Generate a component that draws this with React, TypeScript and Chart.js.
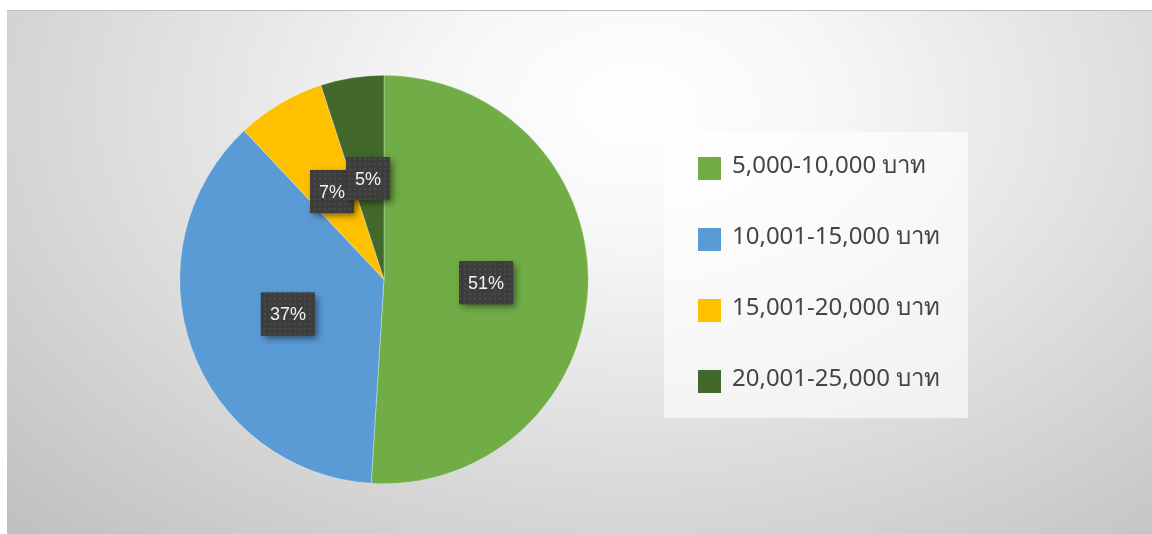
import React, { useEffect, useRef } from "react";
import { Chart, registerables } from "chart.js";

Chart.register(...registerables);

const categories = ["5,000-10,000 บาท", "10,001-15,000 บาท", "15,001-20,000 บาท", "20,001-25,000 บาท"];
const values = [51, 37, 7, 5];
const sliceColors = ["#70AD47", "#5B9BD5", "#FFC000", "#43682B"];

const W = 1145;
const H = 524;

function makePattern(ctx: CanvasRenderingContext2D) {
  const c = document.createElement("canvas");
  c.width = 5;
  c.height = 5;
  const p = c.getContext("2d")!;
  p.fillStyle = "#3d3d3d";
  p.fillRect(0, 0, 5, 5);
  p.fillStyle = "#4a4a4a";
  p.fillRect(2, 2, 2, 2);
  return ctx.createPattern(c, "repeat");
}

const labelPlugin = {
  id: "boxLabels",
  afterDatasetsDraw(chart: any) {
    const ctx: CanvasRenderingContext2D = chart.ctx;
    const meta = chart.getDatasetMeta(0);
    const data = chart.data.datasets[0].data as number[];
    const total = data.reduce((a, b) => a + b, 0);
    const pat = makePattern(ctx);
    ctx.save();
    ctx.font = "18px 'Liberation Sans', Arial, sans-serif";
    meta.data.forEach((arc: any, i: number) => {
      const pt = arc.getCenterPoint();
      const txt = Math.round((data[i] / total) * 100) + "%";
      const tw = ctx.measureText(txt).width;
      const bw = Math.round(tw + 18);
      const bh = 43;
      const x = pt.x - bw / 2;
      const y = pt.y - bh / 2;
      ctx.save();
      ctx.shadowColor = "rgba(0,0,0,0.5)";
      ctx.shadowBlur = 7;
      ctx.shadowOffsetX = 3;
      ctx.shadowOffsetY = 3;
      ctx.fillStyle = "#3d3d3d";
      ctx.fillRect(x, y, bw, bh);
      ctx.restore();
      if (pat) {
        ctx.fillStyle = pat;
        ctx.fillRect(x, y, bw, bh);
      }
      ctx.fillStyle = "#f2f2f2";
      ctx.textAlign = "center";
      ctx.textBaseline = "middle";
      ctx.fillText(txt, pt.x, pt.y + 1);
    });
    ctx.restore();
  },
  afterDraw(chart: any) {
    const ctx: CanvasRenderingContext2D = chart.ctx;
    const labels = chart.data.labels as string[];
    const colors = chart.data.datasets[0].backgroundColor as string[];
    ctx.save();
    ctx.fillStyle = "rgba(255,255,255,0.62)";
    ctx.fillRect(657, 121, 304, 286);
    ctx.font = "24px 'Noto Sans', 'DejaVu Sans', sans-serif";
    ctx.textBaseline = "middle";
    ctx.textAlign = "left";
    labels.forEach((lab, i) => {
      const cy = 157.5 + i * 71;
      ctx.fillStyle = colors[i];
      ctx.fillRect(691, cy - 11.5, 23, 23);
      ctx.fillStyle = "#454545";
      ctx.fillText(lab, 725, cy - 2);
    });
    ctx.restore();
  },
};

export default function App() {
  const ref = useRef<HTMLCanvasElement>(null);
  useEffect(() => {
    if (!ref.current) return;
    const chart = new Chart(ref.current, {
      type: "pie",
      data: {
        labels: categories,
        datasets: [
          {
            data: values,
            backgroundColor: sliceColors,
            borderColor: "rgba(255,255,255,0.6)",
            borderWidth: 0.5,
          },
        ],
      },
      options: {
        responsive: false,
        animation: false,
        layout: { padding: { left: 172, right: 563, top: 64, bottom: 50 } },
        plugins: { legend: { display: false }, tooltip: { enabled: false } },
      },
      plugins: [labelPlugin],
    });
    return () => chart.destroy();
  }, []);
  return (
    <div
      style={{
        position: "absolute",
        left: 7,
        top: 10,
        width: W,
        height: H,
        borderTop: "1px solid #bdbdbd",
        boxSizing: "border-box",
        background:
          "radial-gradient(ellipse farthest-corner at 55% 18%, #ffffff 0%, #f7f7f7 22%, #bfbfbf 100%)",
      }}
    >
      <canvas ref={ref} width={W} height={H - 1} style={{ display: "block" }} />
    </div>
  );
}
